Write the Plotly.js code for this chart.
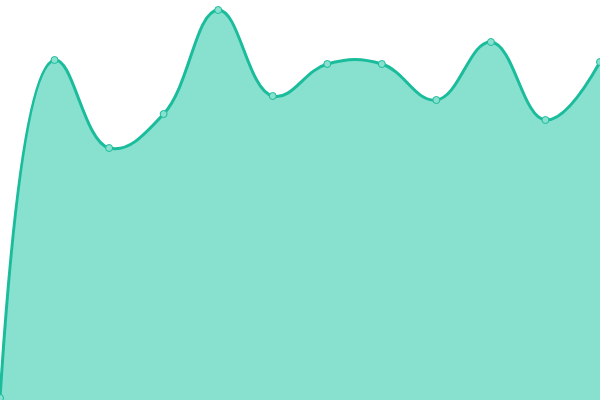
<!DOCTYPE html>
<html>
<head>
<meta charset="utf-8">
<script src="https://cdn.plot.ly/plotly-3.0.1.min.js"></script>
<style>
  html, body { margin: 0; padding: 0; background: #fff; }
  #chart { width: 600px; height: 400px; }
</style>
</head>
<body>
<div id="chart"></div>
<script>
const xs = [0, 1, 2, 3, 4, 5, 6, 7, 8, 9, 10, 11];
const values = [0.5, 85, 63, 71.5, 97.5, 76, 84, 84, 75, 89.5, 70, 84.5];

const lineColor = 'rgb(26, 188, 156)';
const fillColor = 'rgb(136, 224, 207)';

let trace = {
    x: xs,
    y: values,
    type: 'scatter',
    mode: 'lines+markers',
    fill: 'tozeroy',
    fillcolor: fillColor,
    line: { color: lineColor, width: 3, shape: 'spline', smoothing: 1.2 },
    marker: {
        size: 7,
        color: fillColor,
        line: { color: lineColor, width: 1 },
    },
    cliponaxis: false,
    hoverinfo: 'none',
};

let layout = {
    width: 600,
    height: 400,
    margin: { l: 0, r: 0, t: 0, b: 0 },
    showlegend: false,
    paper_bgcolor: '#fff',
    plot_bgcolor: '#fff',
    xaxis: { range: [0, 11], visible: false, fixedrange: true },
    yaxis: { range: [0, 100], visible: false, fixedrange: true },
};

Plotly.newPlot('chart', [trace], layout, { staticPlot: true });
</script>
</body>
</html>
